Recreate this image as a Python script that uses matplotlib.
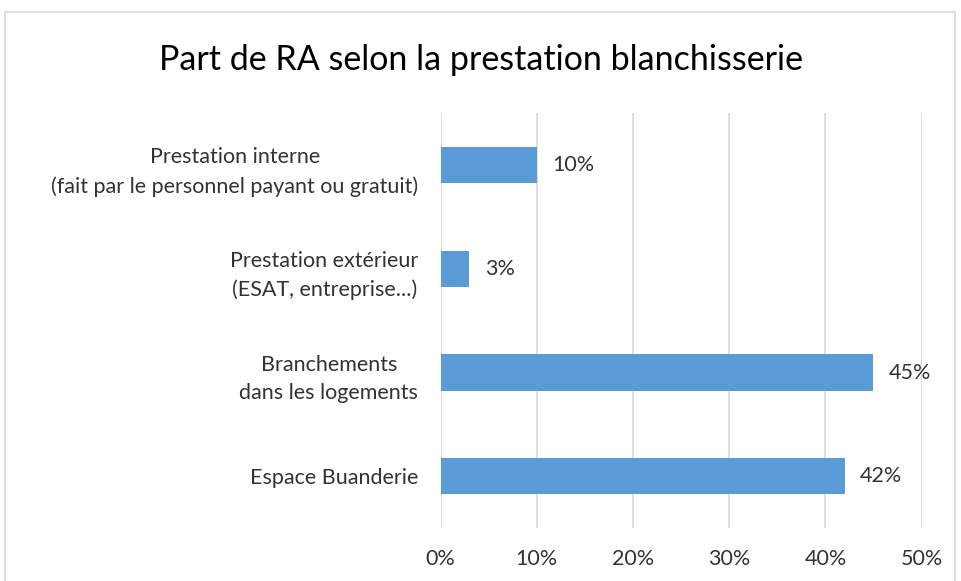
import matplotlib.pyplot as plt
from matplotlib.patches import Rectangle

# data
categories = ['Prestation interne\n(fait par le personnel payant ou gratuit)',
              'Prestation extérieur\n(ESAT, entreprise...)',
              'Branchements\ndans les logements',
              'Espace Buanderie']
values = [10, 3, 45, 42]
xticks = [0, 10, 20, 30, 40, 50]

plt.rcParams['font.family'] = ['Lato', 'DejaVu Sans']

fig = plt.figure(figsize=(9.62, 5.81), dpi=100)
ax = fig.add_axes([0.458, 0.091, 0.5, 0.714])

# chart border
fig.patches.append(Rectangle((5 / 962, -0.01), 950 / 962, 1 - 12 / 581 + 0.01,
                             transform=fig.transFigure, fill=False,
                             edgecolor='#d9d9d9', linewidth=1.2))

ypos = list(range(len(categories)))
ax.barh(ypos, values, height=0.35, color='#5b9bd5', zorder=3)
for y, v in zip(ypos, values):
    ax.text(v + 1.6, y, f'{v}%', va='center', ha='left', fontsize=15.5, color='#333333')

ax.set_ylim(len(categories) - 0.5, -0.5)
ax.set_xlim(0, 50)
ax.set_xticks(xticks)
ax.set_xticklabels([f'{t}%' for t in xticks], fontsize=15.5, color='#333333')
ax.set_yticks(ypos)
ax.set_yticklabels(categories, fontsize=15.5, color='#333333',
                   multialignment='center', linespacing=1.55)
ax.tick_params(length=0)
ax.tick_params(axis='x', pad=15)
ax.tick_params(axis='y', pad=16)
ax.grid(axis='x', color='#d9d9d9', linewidth=1.2, zorder=0)
for s in ax.spines.values():
    s.set_visible(False)

fig.text(0.5, 0.897, 'Part de RA selon la prestation blanchisserie',
         ha='center', va='center', fontsize=24.5, color='#000000')

fig.savefig('out.png', dpi=100)
